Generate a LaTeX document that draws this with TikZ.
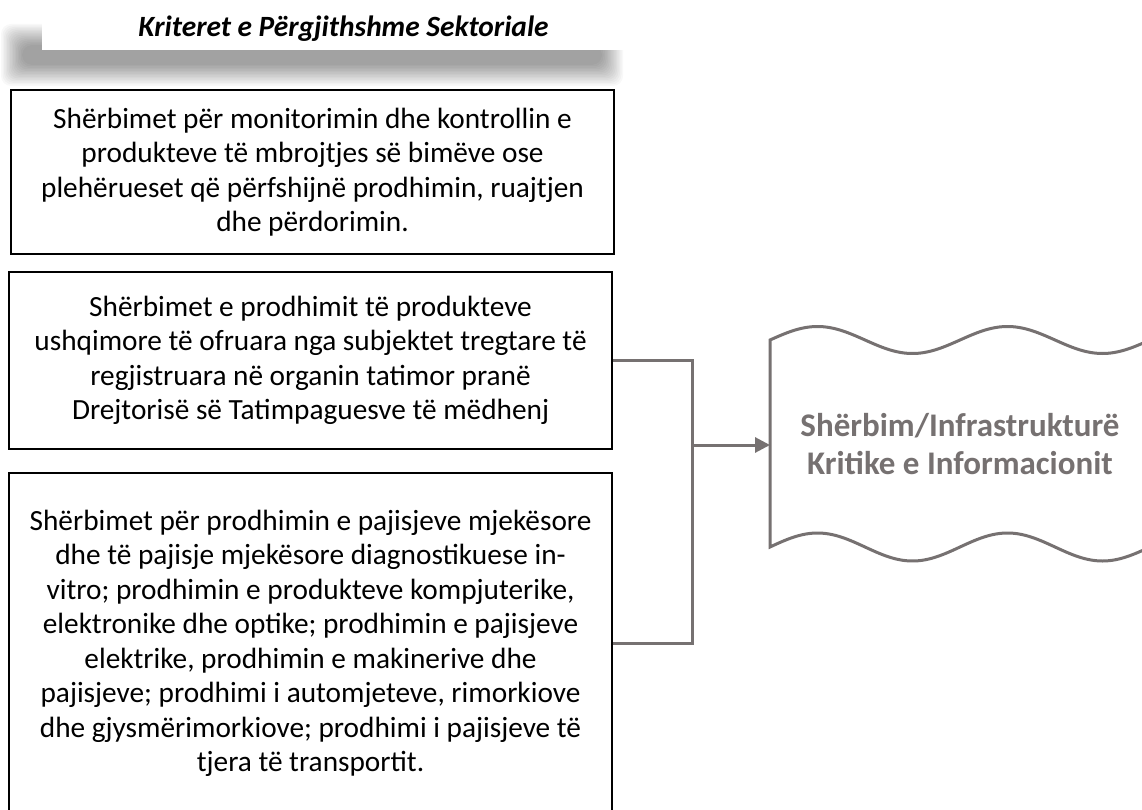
\documentclass[tikz,border=0pt]{standalone}
\usepackage{fontspec}
\setmainfont{Carlito}
\usetikzlibrary{arrows.meta}
\definecolor{linegray}{RGB}{118,113,113}
\begin{document}
\begin{tikzpicture}[x=1pt,y=-1pt,
  boxstyle/.style={draw=black, line width=2.5pt, align=center, inner sep=0pt,
    font=\fontsize{29.3}{34.5}\selectfont},
  conn/.style={draw=linegray, line width=3pt},
  wavestyle/.style={draw=linegray, line width=3pt, fill=white}]
\clip (0,0) rectangle (1142,810);
\fill[white] (0,0) rectangle (1142,810);
% title shadow
\foreach \i in {0,...,14} {
  \fill[black, opacity=0.027, rounded corners=10pt]
    ({12-(-10+1.5*\i)}, {35-(-10+1.5*\i)}) rectangle ({612+(-10+1.5*\i)}, {75+(-10+1.5*\i)});
}
\fill[white] (42,0) rectangle (625,50);
\node[font=\fontsize{29.4}{34}\selectfont\bfseries\itshape, inner sep=0pt, anchor=base] (title) at (343.5,37) {Kriteret e Përgjithshme Sektoriale};
% boxes
\node[boxstyle, minimum width=603pt, minimum height=164pt] (b1) at (312.5,172)
  {Shërbimet për monitorimin dhe kontrollin e\\ produkteve të mbrojtjes së bimëve ose\\ plehërueset që përfshijnë prodhimin, ruajtjen\\ dhe përdorimin.};
\node[boxstyle, minimum width=603pt, minimum height=177pt] (b2) at (310.5,360.5)
  {Shërbimet e prodhimit të produkteve\\ ushqimore të ofruara nga subjektet tregtare të\\ regjistruara në organin tatimor pranë\\ Drejtorisë së Tatimpaguesve të mëdhenj};
\node[boxstyle, minimum width=603pt, minimum height=341pt] (b3) at (310.5,643.5)
  {Shërbimet për prodhimin e pajisjeve mjekësore\\ dhe të pajisje mjekësore diagnostikuese in-\\ vitro; prodhimin e produkteve kompjuterike,\\ elektronike dhe optike; prodhimin e pajisjeve\\ elektrike, prodhimin e makinerive dhe\\ pajisjeve; prodhimi i automjeteve, rimorkiove\\ dhe gjysmërimorkiove; prodhimi i pajisjeve të\\ tjera të transportit.};
% wave shape
\path[wavestyle] (770,340)
  -- plot[domain=770:1170, samples=90, smooth] (\x, {340 - 13.5*sin(1.894737*(\x-770))})
  -- (1170,548)
  -- plot[domain=1170:770, samples=90, smooth] (\x, {547 - 14*sin(1.894737*(\x-770))})
  -- cycle;
\coordinate (wl) at (770,445);
\node[font=\fontsize{33}{38}\selectfont\bfseries, text=linegray, align=center, inner sep=0pt] (crit) at (960,444)
  {Shërbim/Infrastrukturë\\ Kritike e Informacionit};
% connectors
\coordinate (j1) at (692,360.5);
\coordinate (j2) at (692,643.5);
\coordinate (ja) at (692,445);
\draw[conn] (b2.east) -- (j1) -- (j2) -- (b3.east);
\draw[conn, -{Triangle[length=15pt,width=15pt]}] (ja) -- (wl);
\end{tikzpicture}
\end{document}
